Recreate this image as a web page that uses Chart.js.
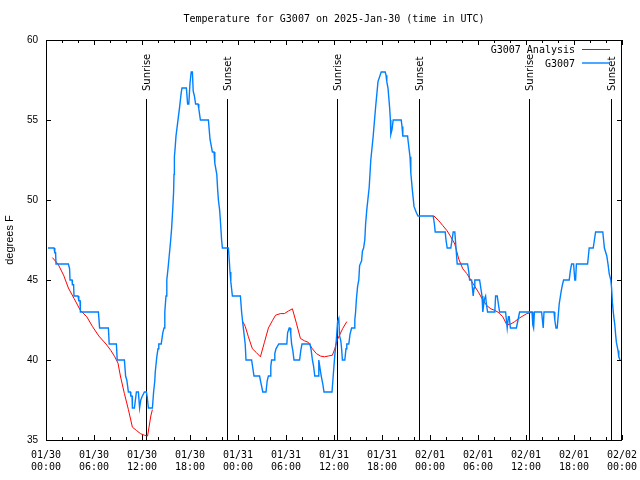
<!DOCTYPE html>
<html><head><meta charset="utf-8">
<script src="https://cdn.jsdelivr.net/npm/chart.js@4.4.1/dist/chart.umd.min.js"></script>
<style>html,body{margin:0;padding:0;background:#fff}canvas{display:block}</style>
</head><body>
<canvas id="c" width="640" height="480"></canvas>
<script>
const chartTitle = 'Temperature for G3007 on 2025-Jan-30 (time in UTC)';
const yAxisTitle = 'degrees F';
const xTickLabels = ['01/30 00:00','01/30 06:00','01/30 12:00','01/30 18:00','01/31 00:00','01/31 06:00','01/31 12:00','01/31 18:00','02/01 00:00','02/01 06:00','02/01 12:00','02/01 18:00','02/02 00:00'];
const yTickValues = [35, 40, 45, 50, 55, 60];
const sunriseHours = [12.54, 36.42, 60.42];
const sunsetHours = [22.66, 46.66, 70.66];
const sunriseLabel = 'Sunrise';
const sunsetLabel = 'Sunset';
const obsName = 'G3007';
const anaName = 'G3007 Analysis';

// observed (hours since 01/30 00:00 UTC, deg F)
const obsHours = [0.25,1.0,1.1,1.2,1.25,2.8,2.95,3.0,3.25,3.3,3.45,3.5,4.0,4.1,4.25,4.3,6.55,6.7,7.8,7.9,8.8,8.9,9.8,9.95,10.1,10.3,10.55,10.6,10.75,10.8,11.05,11.3,11.55,11.7,11.85,12.0,12.3,12.55,12.65,12.8,13.3,13.45,13.6,13.65,13.85,14.0,14.1,14.4,14.6,14.75,14.85,15.0,15.1,15.25,15.4,15.55,15.7,15.85,15.95,16.0,16.05,16.15,16.25,16.45,16.7,16.9,17.0,17.55,17.7,17.85,18.0,18.15,18.3,18.4,18.55,18.7,19.0,19.1,19.3,20.3,20.4,20.5,20.8,21.0,21.1,21.35,21.45,21.55,21.7,21.8,21.95,22.05,22.8,22.9,23.0,23.1,23.3,24.3,24.45,24.6,24.9,25.0,25.7,25.85,26.0,26.7,26.85,27.1,27.5,27.65,27.8,28.0,28.1,28.2,28.5,28.6,28.75,28.85,29.1,30.1,30.2,30.4,30.5,30.6,30.7,30.85,31.0,31.7,31.85,32.0,33.0,33.15,33.3,33.45,33.6,34.0,34.1,34.25,34.4,34.6,34.75,35.75,35.9,36.1,36.3,36.45,36.6,36.7,36.85,36.95,37.05,37.35,37.5,37.6,37.85,38.0,38.2,38.5,38.6,38.7,38.8,38.95,39.1,39.2,39.45,39.55,39.7,39.85,39.95,40.1,40.4,40.6,40.9,41.2,41.5,41.9,42.4,42.5,42.6,42.75,42.95,43.05,43.1,43.25,43.4,44.4,44.5,44.6,45.2,45.25,45.5,45.6,45.8,46.0,46.3,46.5,48.4,48.55,48.65,49.9,50.0,50.15,50.6,50.75,50.9,51.1,51.25,51.4,52.7,52.85,52.95,53.2,53.3,53.4,53.5,53.6,54.2,54.35,54.5,54.6,54.8,54.95,55.05,55.2,56.1,56.2,56.4,56.55,56.7,57.45,57.65,57.8,57.9,58.05,58.8,59.0,59.2,60.75,60.85,60.95,61.05,61.95,62.05,62.15,62.25,63.5,63.6,63.75,63.9,64.15,64.4,64.55,64.7,65.4,65.55,65.7,65.95,66.1,66.2,66.3,67.7,67.8,67.9,68.4,68.55,68.7,69.6,69.7,69.8,70.1,70.25,70.4,70.6,70.7,70.8,70.95,71.1,71.2,71.3,71.5,71.6,71.75];
const obsTemps = [47,47,46.7,46.7,46,46,45.7,45,45,44.7,44.7,44,44,43.7,43.7,43,43,42,42,41,41,40,40,39,38.75,38,38,37.75,37.75,37,37,38,38,37,37.5,37.7,38,38,37.7,37,37,38,38.7,39.2,40.2,40.7,41,41,41.7,42,43,44,45,45.7,46.5,47.3,48.2,49.5,50.5,51.6,52.7,53.3,54,54.8,55.8,56.7,57,57,56,56,57.3,58,58,56.8,56.5,56,56,55.7,55,55,54.4,53.8,53,53,52.3,51.6,50.7,50,49.4,48.7,47.5,47,47,46.3,45.5,44.9,44,44,43,42.3,41,40,40,39.5,39,39,38.6,38,38,38.7,39,39,39.6,40,40,40.4,40.7,40.7,41,41,41.7,42,42,41.6,41,40.6,40,40,40.6,41,41,40.6,40,39.6,39,39,40,39.5,39,38.5,38,38,39,40.3,41.3,42.4,42.6,41.5,41.2,40.7,40,40,40.7,41,41,41.6,42,42,42.5,43,43.8,44.6,45,45.9,46.2,46.8,47,47.5,48.5,49.4,50.8,52.5,54,55.8,57.4,58,58,57.8,57.4,57,55.8,55,54.1,54.4,55,55,54.6,54,54,53.75,52.7,51.7,50.6,49.6,49.2,49,49,48.5,48,48,47.5,47,47,47.5,48,48,47,46,46,45.5,45,45,44.5,44,44.5,45,45,44.5,44,43,43.8,44,43.5,43,43,44,44,43.5,43,43,42,42.7,42.7,42,42,42.5,43,43,42.2,42,43,43,42.5,42,43,43,42.5,42,42,43.5,44.3,44.7,45,45,45.6,46,46,45,45,46,46,46.5,47,47,47.5,48,48,47.5,47,46.5,46,45.4,45,44.5,43.6,42.8,42.2,41.6,41.1,40.6,40.2,40];

// analysis (null = no analysis available)
const anaHours = [0.8,1.5,2.2,2.8,3.5,4.3,5.1,5.8,6.6,7.5,8.1,8.6,9.0,9.3,9.8,10.3,10.8,11.3,11.8,12.3,12.7,13.1,13.3,18.0,24.6,24.9,25.3,25.8,26.3,26.8,27.3,27.8,28.3,28.7,29.3,29.8,30.3,30.8,31.3,31.8,32.3,32.8,33.3,33.8,34.3,34.8,35.3,35.8,36.1,36.4,36.7,37.1,37.6,43.0,48.5,49.1,49.6,50.1,50.6,51.1,51.6,52.1,52.6,53.1,53.6,54.1,54.6,55.1,55.6,56.1,56.6,57.1,57.6,58.1,58.6,59.1,59.6,60.1,60.6,60.9];
const anaTemps = [46.4,46.0,45.3,44.5,43.85,43.1,42.7,42.1,41.5,41.0,40.6,40.2,39.8,39.0,37.9,36.9,35.8,35.6,35.4,35.3,35.25,36.5,36.9,null,42.4,42.1,41.45,40.7,40.46,40.2,41.1,42.0,42.46,42.8,42.9,42.9,43.06,43.2,42.3,41.35,41.2,41.1,40.7,40.4,40.25,40.2,40.25,40.3,40.7,41.25,41.56,41.98,42.4,null,49.0,48.7,48.4,48.1,47.7,47.25,46.3,45.7,45.4,45.0,44.6,44.2,43.75,43.4,43.2,43.1,42.96,42.7,42.2,42.25,42.4,42.6,42.75,42.9,42.96,43.0];

const toPoints = (hs, vs) => hs.map((h, i) => ({x: h, y: vs[i]}));

const decor = {
  id: 'decor',
  beforeDatasetsDraw(chart) {
    const {ctx, chartArea: a, scales: {x}} = chart;
    ctx.save();
    ctx.strokeStyle = '#000';
    ctx.fillStyle = '#000';
    ctx.lineWidth = 1;
    ctx.font = '10px "DejaVu Sans"';
    const events = sunriseHours.map(h => [h, sunriseLabel]).concat(sunsetHours.map(h => [h, sunsetLabel]));
    for (const [h, label] of events) {
      const px = Math.round(x.getPixelForValue(h)) + 0.5;
      ctx.beginPath(); ctx.moveTo(px, a.top + 59); ctx.lineTo(px, a.bottom); ctx.stroke();
      ctx.save();
      ctx.translate(px + 1, a.top + 51);
      ctx.rotate(-Math.PI / 2);
      ctx.textAlign = 'left'; ctx.textBaseline = 'middle';
      ctx.fillText(label, 0, 0);
      ctx.restore();
    }
    ctx.restore();
  },
  afterDatasetsDraw(chart) {
    const {ctx, chartArea: a, scales: {x, y}} = chart;
    ctx.save();
    ctx.strokeStyle = '#000';
    ctx.lineWidth = 1;
    // frame
    ctx.strokeRect(a.left + 0.5, a.top + 0.5, a.right - a.left - 1, a.bottom - a.top);
    ctx.beginPath();
    for (let h = x.min; h <= x.max + 1e-9; h += 2) {
      const px = Math.round(x.getPixelForValue(h)) + 0.5;
      const len = (h % 6 === 0) ? 5 : 3;
      ctx.moveTo(px, a.bottom); ctx.lineTo(px, a.bottom - len);
      ctx.moveTo(px, a.top); ctx.lineTo(px, a.top + len);
    }
    for (const v of yTickValues) {
      const py = Math.round(y.getPixelForValue(v)) + 0.5;
      ctx.moveTo(a.left, py); ctx.lineTo(a.left + 5, py);
      ctx.moveTo(a.right, py); ctx.lineTo(a.right - 5, py);
    }
    ctx.stroke();
    // legend
    ctx.font = '10px "DejaVu Sans Mono"';
    ctx.textAlign = 'right'; ctx.textBaseline = 'middle';
    const ds = chart.data.datasets.slice().reverse();
    ds.forEach((d, i) => {
      const ly = a.top + 9.5 + i * 13.5;
      ctx.fillStyle = '#000';
      ctx.fillText(d.label, a.right - 47, ly + 1);
      ctx.strokeStyle = d.borderColor;
      ctx.lineWidth = d.borderWidth;
      ctx.beginPath(); ctx.moveTo(a.right - 40, ly); ctx.lineTo(a.right - 12, ly); ctx.stroke();
    });
    // title
    ctx.fillStyle = '#000';
    ctx.textAlign = 'center';
    ctx.fillText(chartTitle, (a.left + a.right) / 2, 19);
    ctx.restore();
  }
};

new Chart(document.getElementById('c'), {
  type: 'line',
  data: {
    datasets: [
      { label: obsName, data: toPoints(obsHours, obsTemps), borderColor: '#0080ff', borderWidth: 1.4, pointRadius: 0, tension: 0, fill: false },
      { label: anaName, data: toPoints(anaHours, anaTemps), borderColor: '#ff0000', borderWidth: 1, pointRadius: 0, tension: 0, fill: false, spanGaps: false }
    ]
  },
  options: {
    responsive: false,
    animation: false,
    devicePixelRatio: 1,
    layout: { padding: { left: 0, right: 18, top: 40, bottom: 0 } },
    plugins: { legend: { display: false }, title: { display: false }, tooltip: { enabled: false } },
    scales: {
      x: {
        type: 'linear', min: 0, max: 72,
        grid: { display: false, drawTicks: false },
        border: { display: false },
        afterFit: s => { s.height = 40; s.paddingLeft = 0; s.paddingRight = 0; },
        ticks: {
          stepSize: 6, autoSkip: false, maxRotation: 0, padding: 9, color: '#000',
          font: { family: 'DejaVu Sans Mono', size: 10, lineHeight: 1.2 },
          callback: v => { const i = Math.round(v / 6); return xTickLabels[i] ? xTickLabels[i].split(' ') : ''; }
        }
      },
      y: {
        type: 'linear', min: 35, max: 60,
        grid: { display: false, drawTicks: false },
        border: { display: false },
        afterFit: s => { s.width = 46; s.paddingTop = 0; s.paddingBottom = 0; },
        title: { display: true, text: yAxisTitle, color: '#000', font: { family: 'Liberation Sans', size: 11 }, padding: { top: 3, bottom: 0 } },
        ticks: { stepSize: 5, padding: 8, color: '#000', font: { family: 'Liberation Sans', size: 10 }, callback: v => String(v) }
      }
    }
  },
  plugins: [decor]
});
</script>
</body></html>
